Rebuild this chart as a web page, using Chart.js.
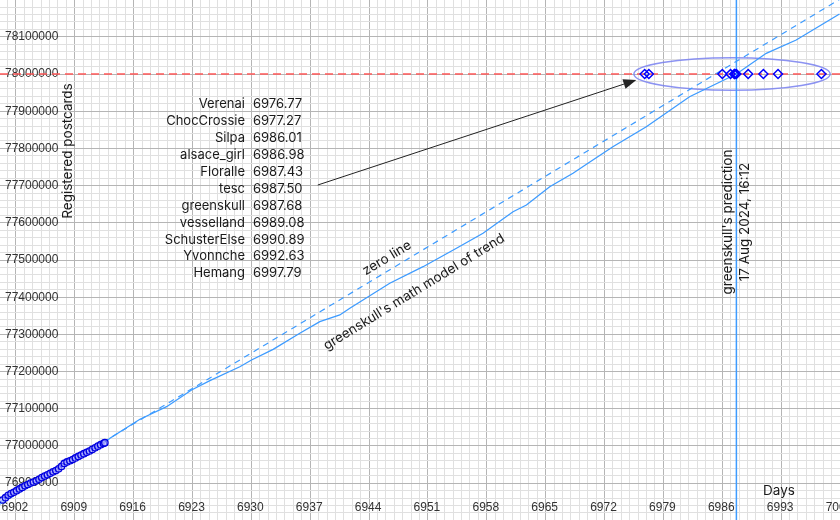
<!DOCTYPE html>
<html><head><meta charset="utf-8">
<script src="https://cdn.jsdelivr.net/npm/chart.js@4.4.1/dist/chart.umd.min.js"></script>
<style>html,body{margin:0;padding:0;background:#fff}canvas{display:block}</style>
</head><body>
<canvas id="c" width="840" height="520"></canvas>
<script>
// ---- axis ranges / ticks ----
const X_MIN = 6900.11, X_MAX = 7000;
const Y_MIN = 76801000, Y_MAX = 78199000;
const X_LABEL_START = 6902, X_MAJOR = 7, X_MINOR = 1;
const Y_MAJOR = 100000, Y_MINOR = 20000;
const TARGET = 78000000;

// ---- observed registrations (points) ----
const observedDays = [6900.42,6900.75,6901.08,6901.42,6901.75,6902.08,6902.42,6902.75,6903.08,6903.42,
  6903.75,6904.08,6904.42,6904.75,6905.08,6905.42,6905.75,6906.08,6906.42,6906.75,
  6907.08,6907.42,6907.75,6908.08,6908.42,6908.75,6909.08,6909.42,6909.75,6910.08,
  6910.42,6910.75,6911.08,6911.42,6911.75,6912.08,6912.42,6912.58];
const observedCards = [76854800,76861000,76867500,76872000,76875500,76879800,76884500,76888500,76893000,76896500,
  76900200,76903000,76906300,76910500,76915000,76919000,76922500,76926500,76930500,76934000,
  76938500,76945000,76953000,76957000,76960300,76963500,76967800,76971800,76975500,76979300,
  76983000,76986500,76990800,76995200,76999500,77003500,77006800,77008900];

// ---- greenskull's math model of trend ----
const modelDays = [6900.11,6912.59,6913.18,6916.75,6919.92,6922.89,6925.07,6928.63,6930.02,6932.59,
  6935.76,6938.14,6940.52,6941.71,6946.46,6950.42,6954.39,6957.55,6961.12,6962.71,
  6965.48,6968.25,6970.03,6972.99,6976.97,6982.11,6987.68,6991.23,6994.79,6999.94];
const modelCards = [76849500,77009400,77020700,77071800,77105600,77150500,77175500,77213100,77231200,77259900,
  77302900,77334100,77352200,77370200,77437400,77482000,77531500,77571800,77629800,77647800,
  77697000,77733100,77759900,77804600,77858300,77939000,78000000,78055600,78091400,78161300];

// ---- zero line ----
const zeroDays = [6900, 7000];
const zeroCards = [76842200, 78201300];

// ---- predictions ----
const names = ["Verenai","ChocCrossie","Silpa","alsace_girl","Floralle","tesc","greenskull","vesselland","SchusterElse","Yvonnche","Hemang"];
const predictions = [6976.77,6977.27,6986.01,6986.98,6987.43,6987.50,6987.68,6989.08,6990.89,6992.63,6997.79];
const greenskullDay = 6987.68;
const predictionLabel = ["greenskull's prediction", "17 Aug 2024, 16:12"];

// ---- annotations (data coords) ----
const ellipseCenter = [6987.16, 78000000];
const ellipseRadii = [11.67, 43800];
const arrowFrom = [6937.9, 77701600];
const arrowTo = [6975.78, 77983900];

const pts = (xs, ys) => xs.map((x, i) => ({x, y: ys[i]}));
const stepTicks = (min, max, step) => {
  const out = [];
  for (let k = Math.ceil(min / step); k * step <= max; k++) out.push({value: k * step});
  return out;
};

const GRID_MAJOR = '#b5b5b5', GRID_MINOR = '#e0e0e0';
const LINE_BLUE = '#3d9bff';

const overlay = {
  id: 'overlay',
  beforeDatasetsDraw(chart) {
    const {ctx, scales: {x, y}} = chart;
    ctx.save();
    ctx.fillStyle = '#333';
    ctx.font = '12px "Liberation Sans", Arial, sans-serif';
    ctx.textBaseline = 'middle';
    ctx.textAlign = 'left';
    y.ticks.forEach(t => {
      const v = Math.round(t.value);
      if (v % Y_MAJOR === 0) ctx.fillText(String(v), 5, y.getPixelForValue(v));
    });
    ctx.textAlign = 'center';
    x.ticks.forEach(t => {
      const v = Math.round(t.value);
      if ((v - X_LABEL_START) % X_MAJOR === 0) ctx.fillText(String(v), x.getPixelForValue(v) - 1, 508);
    });
    // ellipse
    const cx = x.getPixelForValue(ellipseCenter[0]), cy = y.getPixelForValue(ellipseCenter[1]);
    const rx = Math.abs(x.getPixelForValue(ellipseCenter[0] + ellipseRadii[0]) - cx);
    const ry = Math.abs(y.getPixelForValue(ellipseCenter[1] + ellipseRadii[1]) - cy);
    ctx.beginPath();
    ctx.ellipse(cx, cy, rx, ry, 0, 0, Math.PI * 2);
    ctx.strokeStyle = 'rgba(120,128,240,0.85)';
    ctx.lineWidth = 1.5;
    ctx.stroke();
    ctx.restore();
  },
  afterDatasetsDraw(chart) {
    const {ctx, scales: {x, y}} = chart;
    ctx.save();
    // arrow
    const x1 = x.getPixelForValue(arrowFrom[0]), y1 = y.getPixelForValue(arrowFrom[1]);
    const x2 = x.getPixelForValue(arrowTo[0]), y2 = y.getPixelForValue(arrowTo[1]);
    const ang = Math.atan2(y2 - y1, x2 - x1);
    const hl = 13, hw = 5;
    ctx.strokeStyle = '#222'; ctx.fillStyle = '#222'; ctx.lineWidth = 1;
    ctx.beginPath(); ctx.moveTo(x1, y1);
    ctx.lineTo(x2 - hl * Math.cos(ang), y2 - hl * Math.sin(ang)); ctx.stroke();
    ctx.beginPath(); ctx.moveTo(x2, y2);
    ctx.lineTo(x2 - hl * Math.cos(ang) + hw * Math.sin(ang), y2 - hl * Math.sin(ang) - hw * Math.cos(ang));
    ctx.lineTo(x2 - hl * Math.cos(ang) - hw * Math.sin(ang), y2 - hl * Math.sin(ang) + hw * Math.cos(ang));
    ctx.closePath(); ctx.fill();

    // table
    ctx.fillStyle = '#1a1a1a';
    ctx.font = '13px Inter, "Noto Sans", sans-serif';
    ctx.textBaseline = 'middle';
    names.forEach((n, i) => {
      const ty = 104 + i * 16.95;
      ctx.textAlign = 'right'; ctx.fillText(n, 245, ty);
      ctx.textAlign = 'left'; ctx.fillText(predictions[i].toFixed(2), 253, ty);
    });

    ctx.font = '13.5px Inter, "Noto Sans", sans-serif';
    ctx.textAlign = 'center';
    const rot = (txt, px, py, a) => { ctx.save(); ctx.translate(px, py); ctx.rotate(a); ctx.fillText(txt, 0, 0); ctx.restore(); };
    rot('Registered postcards', 68, 151, -Math.PI / 2);
    const vx = x.getPixelForValue(greenskullDay);
    rot(predictionLabel[0], vx - 8, 222, -Math.PI / 2);
    rot(predictionLabel[1], vx + 9, 222, -Math.PI / 2);
    rot('zero line', 387, 258, -31 * Math.PI / 180);
    rot("greenskull's math model of trend", 414, 292, -31.5 * Math.PI / 180);
    ctx.fillText('Days', 779, 491);
    ctx.restore();
  }
};

new Chart(document.getElementById('c'), {
  type: 'scatter',
  data: {
    datasets: [
      { data: pts(predictions, predictions.map(() => TARGET)), showLine: false, pointStyle: 'rectRot',
        pointRadius: 4.5, pointBorderColor: '#0000ff', pointBackgroundColor: 'rgba(255,255,255,0)', pointBorderWidth: 1.5 },
      { data: pts(observedDays, observedCards), showLine: true, borderColor: '#2020ff', borderWidth: 1.5,
        pointRadius: 3.2, pointBorderColor: '#0000e0', pointBackgroundColor: 'rgba(190,190,255,0.55)', pointBorderWidth: 1.3 },
      { data: [{x: greenskullDay, y: Y_MIN}, {x: greenskullDay, y: Y_MAX}], showLine: true, borderColor: LINE_BLUE,
        borderWidth: 1.5, pointRadius: 0 },
      { data: pts(modelDays, modelCards), showLine: true, borderColor: LINE_BLUE, borderWidth: 1.3, pointRadius: 0 },
      { data: pts(zeroDays, zeroCards), showLine: true, borderColor: LINE_BLUE, borderWidth: 1.2, borderDash: [6, 5], pointRadius: 0 },
      { data: [{x: X_MIN, y: TARGET}, {x: X_MAX, y: TARGET}], showLine: true, borderColor: '#ff5858', borderWidth: 1.5,
        borderDash: [8, 5], pointRadius: 0 }
    ]
  },
  options: {
    responsive: false, animation: false, events: [],
    layout: { padding: 0, autoPadding: false },
    plugins: { legend: { display: false }, tooltip: { enabled: false } },
    scales: {
      x: { type: 'linear', min: X_MIN, max: X_MAX,
        ticks: { display: false },
        afterBuildTicks: s => { s.ticks = stepTicks(X_MIN, X_MAX, X_MINOR); },
        border: { display: false },
        grid: { drawTicks: false, color: c => ((Math.round(c.tick.value) - X_LABEL_START) % X_MAJOR === 0 ? GRID_MAJOR : GRID_MINOR) },
        afterFit: s => { s.height = 0; } },
      y: { type: 'linear', min: Y_MIN, max: Y_MAX,
        ticks: { display: false },
        afterBuildTicks: s => { s.ticks = stepTicks(Y_MIN, Y_MAX, Y_MINOR); },
        border: { display: false },
        grid: { drawTicks: false, color: c => (Math.round(c.tick.value) % Y_MAJOR === 0 ? GRID_MAJOR : GRID_MINOR) },
        afterFit: s => { s.width = 0; } }
    }
  },
  plugins: [overlay]
});
</script>
</body></html>
